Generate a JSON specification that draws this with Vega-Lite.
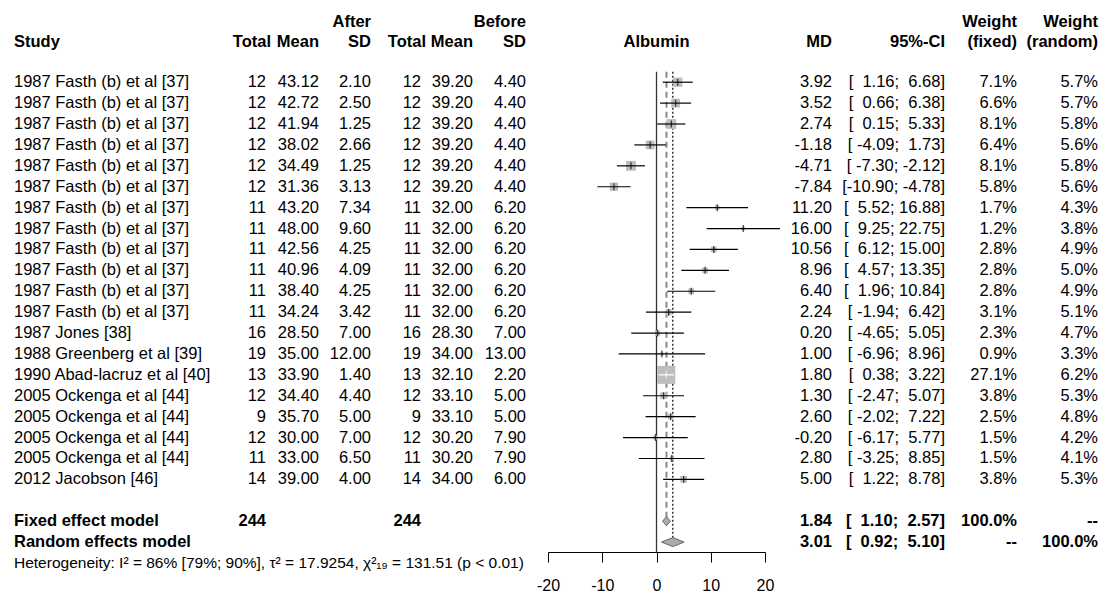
{
  "$schema": "https://vega.github.io/schema/vega-lite/v6.json",
  "padding": {"left": 14, "top": 0, "right": 3, "bottom": 0},
  "bounds": "flush",
  "spacing": 0,
  "config": {
    "locale": {"number": {"decimal": ".", "thousands": ",", "grouping": [3], "currency": ["$", ""], "minus": "-"}},
    "view": {"stroke": null},
    "font": "Liberation Sans",
    "text": {"font": "Liberation Sans", "fontSize": 16.5, "baseline": "middle", "color": "black"},
    "axis": {"labelFont": "Liberation Sans"}
  },
  "datasets": {
    "headers": [
      {"col": "study", "row": 1, "label": "Study"},
      {"col": "n_a", "row": 1, "label": "Total"},
      {"col": "mean_a", "row": 1, "label": "Mean"},
      {"col": "sd_a", "row": 0, "label": "After"},
      {"col": "sd_a", "row": 1, "label": "SD"},
      {"col": "n_b", "row": 1, "label": "Total"},
      {"col": "mean_b", "row": 1, "label": "Mean"},
      {"col": "sd_b", "row": 0, "label": "Before"},
      {"col": "sd_b", "row": 1, "label": "SD"},
      {"col": "forest", "row": 1, "label": "Albumin"},
      {"col": "md", "row": 1, "label": "MD"},
      {"col": "ci", "row": 1, "label": "95%-CI"},
      {"col": "wf", "row": 0, "label": "Weight"},
      {"col": "wf", "row": 1, "label": "(fixed)"},
      {"col": "wr", "row": 0, "label": "Weight"},
      {"col": "wr", "row": 1, "label": "(random)"}
    ],
    "refs": [
      {"ref": "null", "x": 0, "top": 2.5, "bottom": 25.48},
      {"ref": "fixed", "x": 1.84, "top": 2.5, "bottom": 24},
      {"ref": "random", "x": 3.01, "top": 2.5, "bottom": 25}
    ],
    "studies": [
      {"row": 3, "study": "1987 Fasth (b) et al [37]", "n_a": 12, "mean_a": 43.12, "sd_a": 2.10, "n_b": 12, "mean_b": 39.20, "sd_b": 4.40, "md": 3.92, "lower": 1.16, "upper": 6.68, "ci": "[\u00a0\u00a01.16;\u00a0\u00a06.68]", "w_fixed": 0.071, "w_random": 0.057},
      {"row": 4, "study": "1987 Fasth (b) et al [37]", "n_a": 12, "mean_a": 42.72, "sd_a": 2.50, "n_b": 12, "mean_b": 39.20, "sd_b": 4.40, "md": 3.52, "lower": 0.66, "upper": 6.38, "ci": "[\u00a0\u00a00.66;\u00a0\u00a06.38]", "w_fixed": 0.066, "w_random": 0.057},
      {"row": 5, "study": "1987 Fasth (b) et al [37]", "n_a": 12, "mean_a": 41.94, "sd_a": 1.25, "n_b": 12, "mean_b": 39.20, "sd_b": 4.40, "md": 2.74, "lower": 0.15, "upper": 5.33, "ci": "[\u00a0\u00a00.15;\u00a0\u00a05.33]", "w_fixed": 0.081, "w_random": 0.058},
      {"row": 6, "study": "1987 Fasth (b) et al [37]", "n_a": 12, "mean_a": 38.02, "sd_a": 2.66, "n_b": 12, "mean_b": 39.20, "sd_b": 4.40, "md": -1.18, "lower": -4.09, "upper": 1.73, "ci": "[\u00a0-4.09;\u00a0\u00a01.73]", "w_fixed": 0.064, "w_random": 0.056},
      {"row": 7, "study": "1987 Fasth (b) et al [37]", "n_a": 12, "mean_a": 34.49, "sd_a": 1.25, "n_b": 12, "mean_b": 39.20, "sd_b": 4.40, "md": -4.71, "lower": -7.30, "upper": -2.12, "ci": "[\u00a0-7.30;\u00a0-2.12]", "w_fixed": 0.081, "w_random": 0.058},
      {"row": 8, "study": "1987 Fasth (b) et al [37]", "n_a": 12, "mean_a": 31.36, "sd_a": 3.13, "n_b": 12, "mean_b": 39.20, "sd_b": 4.40, "md": -7.84, "lower": -10.90, "upper": -4.78, "ci": "[-10.90;\u00a0-4.78]", "w_fixed": 0.058, "w_random": 0.056},
      {"row": 9, "study": "1987 Fasth (b) et al [37]", "n_a": 11, "mean_a": 43.20, "sd_a": 7.34, "n_b": 11, "mean_b": 32.00, "sd_b": 6.20, "md": 11.20, "lower": 5.52, "upper": 16.88, "ci": "[\u00a0\u00a05.52;\u00a016.88]", "w_fixed": 0.017, "w_random": 0.043},
      {"row": 10, "study": "1987 Fasth (b) et al [37]", "n_a": 11, "mean_a": 48.00, "sd_a": 9.60, "n_b": 11, "mean_b": 32.00, "sd_b": 6.20, "md": 16.00, "lower": 9.25, "upper": 22.75, "ci": "[\u00a0\u00a09.25;\u00a022.75]", "w_fixed": 0.012, "w_random": 0.038},
      {"row": 11, "study": "1987 Fasth (b) et al [37]", "n_a": 11, "mean_a": 42.56, "sd_a": 4.25, "n_b": 11, "mean_b": 32.00, "sd_b": 6.20, "md": 10.56, "lower": 6.12, "upper": 15.00, "ci": "[\u00a0\u00a06.12;\u00a015.00]", "w_fixed": 0.028, "w_random": 0.049},
      {"row": 12, "study": "1987 Fasth (b) et al [37]", "n_a": 11, "mean_a": 40.96, "sd_a": 4.09, "n_b": 11, "mean_b": 32.00, "sd_b": 6.20, "md": 8.96, "lower": 4.57, "upper": 13.35, "ci": "[\u00a0\u00a04.57;\u00a013.35]", "w_fixed": 0.028, "w_random": 0.050},
      {"row": 13, "study": "1987 Fasth (b) et al [37]", "n_a": 11, "mean_a": 38.40, "sd_a": 4.25, "n_b": 11, "mean_b": 32.00, "sd_b": 6.20, "md": 6.40, "lower": 1.96, "upper": 10.84, "ci": "[\u00a0\u00a01.96;\u00a010.84]", "w_fixed": 0.028, "w_random": 0.049},
      {"row": 14, "study": "1987 Fasth (b) et al [37]", "n_a": 11, "mean_a": 34.24, "sd_a": 3.42, "n_b": 11, "mean_b": 32.00, "sd_b": 6.20, "md": 2.24, "lower": -1.94, "upper": 6.42, "ci": "[\u00a0-1.94;\u00a0\u00a06.42]", "w_fixed": 0.031, "w_random": 0.051},
      {"row": 15, "study": "1987 Jones [38]", "n_a": 16, "mean_a": 28.50, "sd_a": 7.00, "n_b": 16, "mean_b": 28.30, "sd_b": 7.00, "md": 0.20, "lower": -4.65, "upper": 5.05, "ci": "[\u00a0-4.65;\u00a0\u00a05.05]", "w_fixed": 0.023, "w_random": 0.047},
      {"row": 16, "study": "1988 Greenberg et al [39]", "n_a": 19, "mean_a": 35.00, "sd_a": 12.00, "n_b": 19, "mean_b": 34.00, "sd_b": 13.00, "md": 1.00, "lower": -6.96, "upper": 8.96, "ci": "[\u00a0-6.96;\u00a0\u00a08.96]", "w_fixed": 0.009, "w_random": 0.033},
      {"row": 17, "study": "1990 Abad-lacruz et al [40]", "n_a": 13, "mean_a": 33.90, "sd_a": 1.40, "n_b": 13, "mean_b": 32.10, "sd_b": 2.20, "md": 1.80, "lower": 0.38, "upper": 3.22, "ci": "[\u00a0\u00a00.38;\u00a0\u00a03.22]", "w_fixed": 0.271, "w_random": 0.062},
      {"row": 18, "study": "2005 Ockenga et al [44]", "n_a": 12, "mean_a": 34.40, "sd_a": 4.40, "n_b": 12, "mean_b": 33.10, "sd_b": 5.00, "md": 1.30, "lower": -2.47, "upper": 5.07, "ci": "[\u00a0-2.47;\u00a0\u00a05.07]", "w_fixed": 0.038, "w_random": 0.053},
      {"row": 19, "study": "2005 Ockenga et al [44]", "n_a": 9, "mean_a": 35.70, "sd_a": 5.00, "n_b": 9, "mean_b": 33.10, "sd_b": 5.00, "md": 2.60, "lower": -2.02, "upper": 7.22, "ci": "[\u00a0-2.02;\u00a0\u00a07.22]", "w_fixed": 0.025, "w_random": 0.048},
      {"row": 20, "study": "2005 Ockenga et al [44]", "n_a": 12, "mean_a": 30.00, "sd_a": 7.00, "n_b": 12, "mean_b": 30.20, "sd_b": 7.90, "md": -0.20, "lower": -6.17, "upper": 5.77, "ci": "[\u00a0-6.17;\u00a0\u00a05.77]", "w_fixed": 0.015, "w_random": 0.042},
      {"row": 21, "study": "2005 Ockenga et al [44]", "n_a": 11, "mean_a": 33.00, "sd_a": 6.50, "n_b": 11, "mean_b": 30.20, "sd_b": 7.90, "md": 2.80, "lower": -3.25, "upper": 8.85, "ci": "[\u00a0-3.25;\u00a0\u00a08.85]", "w_fixed": 0.015, "w_random": 0.041},
      {"row": 22, "study": "2012 Jacobson [46]", "n_a": 14, "mean_a": 39.00, "sd_a": 4.00, "n_b": 14, "mean_b": 34.00, "sd_b": 6.00, "md": 5.00, "lower": 1.22, "upper": 8.78, "ci": "[\u00a0\u00a01.22;\u00a0\u00a08.78]", "w_fixed": 0.038, "w_random": 0.053}
    ],
    "models": [
      {"row": 24, "label": "Fixed effect model", "n": 244, "md": 1.84, "lower": 1.10, "upper": 2.57, "ci": "[\u00a0\u00a01.10;\u00a0\u00a02.57]", "wf": "100.0%", "wr": "--"},
      {"row": 25, "label": "Random effects model", "n": null, "md": 3.01, "lower": 0.92, "upper": 5.10, "ci": "[\u00a0\u00a00.92;\u00a0\u00a05.10]", "wf": "--", "wr": "100.0%"}
    ],
    "notes": [
      {"row": 26, "label": "Heterogeneity: I\u00b2 = 86% [79%; 90%], \u03c4\u00b2 = 17.9254, \u03c7\u00b2\u2081\u2089 = 131.51 (p < 0.01)"}
    ]
  },
  "hconcat": [
    {
      "width": 216, "height": 552,
      "layer": [
        {"data": {"name": "headers"}, "transform": [{"filter": "datum.col == 'study'"}],
         "mark": {"type": "text", "align": "left", "fontWeight": "bold", "dy": 2},
         "encoding": {"x": {"datum": 0, "type": "quantitative", "scale": {"domain": [0, 1]}, "axis": null},
                      "y": {"field": "row", "type": "quantitative", "scale": {"domain": [0, 26], "range": [19.5, 563]}, "axis": null},
                      "text": {"field": "label", "type": "nominal"}}},
        {"data": {"name": "studies"},
         "mark": {"type": "text", "align": "left"},
         "encoding": {"x": {"datum": 0, "type": "quantitative", "scale": {"domain": [0, 1]}, "axis": null},
                      "y": {"field": "row", "type": "quantitative", "scale": {"domain": [0, 26], "range": [19.5, 563]}, "axis": null},
                      "text": {"field": "study", "type": "nominal"}}},
        {"data": {"name": "models"},
         "mark": {"type": "text", "align": "left", "fontWeight": "bold"},
         "encoding": {"x": {"datum": 0, "type": "quantitative", "scale": {"domain": [0, 1]}, "axis": null},
                      "y": {"field": "row", "type": "quantitative", "scale": {"domain": [0, 26], "range": [19.5, 563]}, "axis": null},
                      "text": {"field": "label", "type": "nominal"}}},
        {"data": {"name": "notes"},
         "mark": {"type": "text", "align": "left", "fontSize": 15.5},
         "encoding": {"x": {"datum": 0, "type": "quantitative", "scale": {"domain": [0, 1]}, "axis": null},
                      "y": {"field": "row", "type": "quantitative", "scale": {"domain": [0, 26], "range": [19.5, 563]}, "axis": null},
                      "text": {"field": "label", "type": "nominal"}}}
      ]
    },
    {
      "width": 36, "height": 552,
      "layer": [
        {"data": {"name": "headers"}, "transform": [{"filter": "datum.col == 'n_a'"}],
         "mark": {"type": "text", "align": "right", "fontWeight": "bold", "dy": 2, "dx": 5},
         "encoding": {"x": {"datum": 1, "type": "quantitative", "scale": {"domain": [0, 1]}, "axis": null},
                      "y": {"field": "row", "type": "quantitative", "scale": {"domain": [0, 26], "range": [19.5, 563]}, "axis": null},
                      "text": {"field": "label", "type": "nominal"}}},
        {"data": {"name": "studies"},
         "mark": {"type": "text", "align": "right"},
         "encoding": {"x": {"datum": 1, "type": "quantitative", "scale": {"domain": [0, 1]}, "axis": null},
                      "y": {"field": "row", "type": "quantitative", "scale": {"domain": [0, 26], "range": [19.5, 563]}, "axis": null},
                      "text": {"field": "n_a", "type": "quantitative", "format": "d"}}},
        {"data": {"name": "models"}, "transform": [{"filter": "isValid(datum.n)"}],
         "mark": {"type": "text", "align": "right", "fontWeight": "bold"},
         "encoding": {"x": {"datum": 1, "type": "quantitative", "scale": {"domain": [0, 1]}, "axis": null},
                      "y": {"field": "row", "type": "quantitative", "scale": {"domain": [0, 26], "range": [19.5, 563]}, "axis": null},
                      "text": {"field": "n", "type": "quantitative", "format": "d"}}}
      ]
    },
    {
      "width": 53, "height": 552,
      "layer": [
        {"data": {"name": "headers"}, "transform": [{"filter": "datum.col == 'mean_a'"}],
         "mark": {"type": "text", "align": "right", "fontWeight": "bold", "dy": 2},
         "encoding": {"x": {"datum": 1, "type": "quantitative", "scale": {"domain": [0, 1]}, "axis": null},
                      "y": {"field": "row", "type": "quantitative", "scale": {"domain": [0, 26], "range": [19.5, 563]}, "axis": null},
                      "text": {"field": "label", "type": "nominal"}}},
        {"data": {"name": "studies"},
         "mark": {"type": "text", "align": "right"},
         "encoding": {"x": {"datum": 1, "type": "quantitative", "scale": {"domain": [0, 1]}, "axis": null},
                      "y": {"field": "row", "type": "quantitative", "scale": {"domain": [0, 26], "range": [19.5, 563]}, "axis": null},
                      "text": {"field": "mean_a", "type": "quantitative", "format": ".2f"}}}
      ]
    },
    {
      "width": 52, "height": 552,
      "layer": [
        {"data": {"name": "headers"}, "transform": [{"filter": "datum.col == 'sd_a'"}],
         "mark": {"type": "text", "align": "right", "fontWeight": "bold", "dy": 2},
         "encoding": {"x": {"datum": 1, "type": "quantitative", "scale": {"domain": [0, 1]}, "axis": null},
                      "y": {"field": "row", "type": "quantitative", "scale": {"domain": [0, 26], "range": [19.5, 563]}, "axis": null},
                      "text": {"field": "label", "type": "nominal"}}},
        {"data": {"name": "studies"},
         "mark": {"type": "text", "align": "right"},
         "encoding": {"x": {"datum": 1, "type": "quantitative", "scale": {"domain": [0, 1]}, "axis": null},
                      "y": {"field": "row", "type": "quantitative", "scale": {"domain": [0, 26], "range": [19.5, 563]}, "axis": null},
                      "text": {"field": "sd_a", "type": "quantitative", "format": ".2f"}}}
      ]
    },
    {
      "width": 50, "height": 552,
      "layer": [
        {"data": {"name": "headers"}, "transform": [{"filter": "datum.col == 'n_b'"}],
         "mark": {"type": "text", "align": "right", "fontWeight": "bold", "dy": 2, "dx": 5},
         "encoding": {"x": {"datum": 1, "type": "quantitative", "scale": {"domain": [0, 1]}, "axis": null},
                      "y": {"field": "row", "type": "quantitative", "scale": {"domain": [0, 26], "range": [19.5, 563]}, "axis": null},
                      "text": {"field": "label", "type": "nominal"}}},
        {"data": {"name": "studies"},
         "mark": {"type": "text", "align": "right"},
         "encoding": {"x": {"datum": 1, "type": "quantitative", "scale": {"domain": [0, 1]}, "axis": null},
                      "y": {"field": "row", "type": "quantitative", "scale": {"domain": [0, 26], "range": [19.5, 563]}, "axis": null},
                      "text": {"field": "n_b", "type": "quantitative", "format": "d"}}},
        {"data": {"name": "models"}, "transform": [{"filter": "isValid(datum.n)"}],
         "mark": {"type": "text", "align": "right", "fontWeight": "bold"},
         "encoding": {"x": {"datum": 1, "type": "quantitative", "scale": {"domain": [0, 1]}, "axis": null},
                      "y": {"field": "row", "type": "quantitative", "scale": {"domain": [0, 26], "range": [19.5, 563]}, "axis": null},
                      "text": {"field": "n", "type": "quantitative", "format": "d"}}}
      ]
    },
    {
      "width": 52, "height": 552,
      "layer": [
        {"data": {"name": "headers"}, "transform": [{"filter": "datum.col == 'mean_b'"}],
         "mark": {"type": "text", "align": "right", "fontWeight": "bold", "dy": 2},
         "encoding": {"x": {"datum": 1, "type": "quantitative", "scale": {"domain": [0, 1]}, "axis": null},
                      "y": {"field": "row", "type": "quantitative", "scale": {"domain": [0, 26], "range": [19.5, 563]}, "axis": null},
                      "text": {"field": "label", "type": "nominal"}}},
        {"data": {"name": "studies"},
         "mark": {"type": "text", "align": "right"},
         "encoding": {"x": {"datum": 1, "type": "quantitative", "scale": {"domain": [0, 1]}, "axis": null},
                      "y": {"field": "row", "type": "quantitative", "scale": {"domain": [0, 26], "range": [19.5, 563]}, "axis": null},
                      "text": {"field": "mean_b", "type": "quantitative", "format": ".2f"}}}
      ]
    },
    {
      "width": 53, "height": 552,
      "layer": [
        {"data": {"name": "headers"}, "transform": [{"filter": "datum.col == 'sd_b'"}],
         "mark": {"type": "text", "align": "right", "fontWeight": "bold", "dy": 2},
         "encoding": {"x": {"datum": 1, "type": "quantitative", "scale": {"domain": [0, 1]}, "axis": null},
                      "y": {"field": "row", "type": "quantitative", "scale": {"domain": [0, 26], "range": [19.5, 563]}, "axis": null},
                      "text": {"field": "label", "type": "nominal"}}},
        {"data": {"name": "studies"},
         "mark": {"type": "text", "align": "right"},
         "encoding": {"x": {"datum": 1, "type": "quantitative", "scale": {"domain": [0, 1]}, "axis": null},
                      "y": {"field": "row", "type": "quantitative", "scale": {"domain": [0, 26], "range": [19.5, 563]}, "axis": null},
                      "text": {"field": "sd_b", "type": "quantitative", "format": ".2f"}}}
      ]
    },
    {
      "width": 261, "height": 552,
      "layer": [
        {"data": {"name": "refs"}, "transform": [{"filter": "datum.ref == 'null'"}],
         "mark": {"type": "rule", "color": "#333333", "strokeWidth": 1.3},
         "encoding": {"x": {"field": "x", "type": "quantitative", "scale": {"domain": [-20, 20], "range": [22, 239]},
                            "axis": {"values": [-20, -10, 0, 10, 20], "title": null, "grid": false, "domainColor": "black", "tickColor": "black", "domainWidth": 1, "tickWidth": 1, "tickSize": 10, "labelFontSize": 16, "labelColor": "black", "labelPadding": 15, "labelFont": "Liberation Sans", "labelFlush": false, "labelOverlap": false}},
                      "y": {"field": "top", "type": "quantitative", "scale": {"domain": [0, 26], "range": [19.5, 563]}, "axis": null},
                      "y2": {"field": "bottom"}}},
        {"data": {"name": "refs"}, "transform": [{"filter": "datum.ref == 'fixed'"}],
         "mark": {"type": "rule", "color": "#8a8a8a", "strokeWidth": 2, "strokeDash": [6, 4]},
         "encoding": {"x": {"field": "x", "type": "quantitative", "scale": {"domain": [-20, 20], "range": [22, 239]},
                            "axis": {"values": [-20, -10, 0, 10, 20], "title": null, "grid": false, "domainColor": "black", "tickColor": "black", "domainWidth": 1, "tickWidth": 1, "tickSize": 10, "labelFontSize": 16, "labelColor": "black", "labelPadding": 15, "labelFont": "Liberation Sans", "labelFlush": false, "labelOverlap": false}},
                      "y": {"field": "top", "type": "quantitative", "scale": {"domain": [0, 26], "range": [19.5, 563]}, "axis": null},
                      "y2": {"field": "bottom"}}},
        {"data": {"name": "refs"}, "transform": [{"filter": "datum.ref == 'random'"}],
         "mark": {"type": "rule", "color": "black", "strokeWidth": 1.2, "strokeDash": [2, 2]},
         "encoding": {"x": {"field": "x", "type": "quantitative", "scale": {"domain": [-20, 20], "range": [22, 239]},
                            "axis": {"values": [-20, -10, 0, 10, 20], "title": null, "grid": false, "domainColor": "black", "tickColor": "black", "domainWidth": 1, "tickWidth": 1, "tickSize": 10, "labelFontSize": 16, "labelColor": "black", "labelPadding": 15, "labelFont": "Liberation Sans", "labelFlush": false, "labelOverlap": false}},
                      "y": {"field": "top", "type": "quantitative", "scale": {"domain": [0, 26], "range": [19.5, 563]}, "axis": null},
                      "y2": {"field": "bottom"}}},
        {"data": {"name": "studies"},
         "mark": {"type": "point", "shape": "square", "filled": true, "color": "#BEBEBE", "opacity": 1, "strokeWidth": 0},
         "encoding": {"x": {"field": "md", "type": "quantitative", "scale": {"domain": [-20, 20], "range": [22, 239]},
                            "axis": {"values": [-20, -10, 0, 10, 20], "title": null, "grid": false, "domainColor": "black", "tickColor": "black", "domainWidth": 1, "tickWidth": 1, "tickSize": 10, "labelFontSize": 16, "labelColor": "black", "labelPadding": 15, "labelFont": "Liberation Sans", "labelFlush": false, "labelOverlap": false}},
                      "y": {"field": "row", "type": "quantitative", "scale": {"domain": [0, 26], "range": [19.5, 563]}, "axis": null},
                      "size": {"field": "w_fixed", "type": "quantitative", "scale": {"domain": [0, 0.271], "range": [0, 324]}, "legend": null}}},
        {"data": {"name": "studies"},
         "mark": {"type": "rule", "strokeWidth": 1.2},
         "encoding": {"x": {"field": "lower", "type": "quantitative", "scale": {"domain": [-20, 20], "range": [22, 239]},
                            "axis": {"values": [-20, -10, 0, 10, 20], "title": null, "grid": false, "domainColor": "black", "tickColor": "black", "domainWidth": 1, "tickWidth": 1, "tickSize": 10, "labelFontSize": 16, "labelColor": "black", "labelPadding": 15, "labelFont": "Liberation Sans", "labelFlush": false, "labelOverlap": false}},
                      "x2": {"field": "upper"},
                      "y": {"field": "row", "type": "quantitative", "scale": {"domain": [0, 26], "range": [19.5, 563]}, "axis": null},
                      "color": {"condition": {"test": "datum.upper - datum.lower < 3", "value": "white"}, "value": "black"}}},
        {"data": {"name": "studies"},
         "mark": {"type": "tick", "orient": "vertical", "size": 7, "thickness": 1.3},
         "encoding": {"x": {"field": "md", "type": "quantitative", "scale": {"domain": [-20, 20], "range": [22, 239]},
                            "axis": {"values": [-20, -10, 0, 10, 20], "title": null, "grid": false, "domainColor": "black", "tickColor": "black", "domainWidth": 1, "tickWidth": 1, "tickSize": 10, "labelFontSize": 16, "labelColor": "black", "labelPadding": 15, "labelFont": "Liberation Sans", "labelFlush": false, "labelOverlap": false}},
                      "y": {"field": "row", "type": "quantitative", "scale": {"domain": [0, 26], "range": [19.5, 563]}, "axis": null},
                      "color": {"condition": {"test": "datum.upper - datum.lower < 3", "value": "white"}, "value": "black"}}},
        {"data": {"name": "models"},
         "mark": {"type": "point", "filled": true, "fill": "#ABABAB", "stroke": "#666666", "strokeWidth": 1, "opacity": 1, "size": 81},
         "encoding": {"x": {"field": "md", "type": "quantitative", "scale": {"domain": [-20, 20], "range": [22, 239]},
                            "axis": {"values": [-20, -10, 0, 10, 20], "title": null, "grid": false, "domainColor": "black", "tickColor": "black", "domainWidth": 1, "tickWidth": 1, "tickSize": 10, "labelFontSize": 16, "labelColor": "black", "labelPadding": 15, "labelFont": "Liberation Sans", "labelFlush": false, "labelOverlap": false}},
                      "y": {"field": "row", "type": "quantitative", "scale": {"domain": [0, 26], "range": [19.5, 563]}, "axis": null},
                      "shape": {"field": "label", "type": "nominal", "legend": null,
                                "scale": {"domain": ["Fixed effect model", "Random effects model"], "range": ["M-0.887,0L0,-1L0.887,0L0,1Z", "M-2.52,0L0,-1L2.52,0L0,1Z"]}}}},
        {"data": {"name": "headers"}, "transform": [{"filter": "datum.col == 'forest'"}],
         "mark": {"type": "text", "align": "center", "fontWeight": "bold", "dy": 2},
         "encoding": {"x": {"datum": 0, "type": "quantitative", "scale": {"domain": [-20, 20], "range": [22, 239]},
                            "axis": {"values": [-20, -10, 0, 10, 20], "title": null, "grid": false, "domainColor": "black", "tickColor": "black", "domainWidth": 1, "tickWidth": 1, "tickSize": 10, "labelFontSize": 16, "labelColor": "black", "labelPadding": 15, "labelFont": "Liberation Sans", "labelFlush": false, "labelOverlap": false}},
                      "y": {"field": "row", "type": "quantitative", "scale": {"domain": [0, 26], "range": [19.5, 563]}, "axis": null},
                      "text": {"field": "label", "type": "nominal"}}}
      ]
    },
    {
      "width": 45, "height": 552,
      "layer": [
        {"data": {"name": "headers"}, "transform": [{"filter": "datum.col == 'md'"}],
         "mark": {"type": "text", "align": "right", "fontWeight": "bold", "dy": 2},
         "encoding": {"x": {"datum": 1, "type": "quantitative", "scale": {"domain": [0, 1]}, "axis": null},
                      "y": {"field": "row", "type": "quantitative", "scale": {"domain": [0, 26], "range": [19.5, 563]}, "axis": null},
                      "text": {"field": "label", "type": "nominal"}}},
        {"data": {"name": "studies"},
         "mark": {"type": "text", "align": "right"},
         "encoding": {"x": {"datum": 1, "type": "quantitative", "scale": {"domain": [0, 1]}, "axis": null},
                      "y": {"field": "row", "type": "quantitative", "scale": {"domain": [0, 26], "range": [19.5, 563]}, "axis": null},
                      "text": {"field": "md", "type": "quantitative", "format": ".2f"}}},
        {"data": {"name": "models"},
         "mark": {"type": "text", "align": "right", "fontWeight": "bold"},
         "encoding": {"x": {"datum": 1, "type": "quantitative", "scale": {"domain": [0, 1]}, "axis": null},
                      "y": {"field": "row", "type": "quantitative", "scale": {"domain": [0, 26], "range": [19.5, 563]}, "axis": null},
                      "text": {"field": "md", "type": "quantitative", "format": ".2f"}}}
      ]
    },
    {
      "width": 113, "height": 552,
      "layer": [
        {"data": {"name": "headers"}, "transform": [{"filter": "datum.col == 'ci'"}],
         "mark": {"type": "text", "align": "right", "fontWeight": "bold", "dy": 2},
         "encoding": {"x": {"datum": 1, "type": "quantitative", "scale": {"domain": [0, 1]}, "axis": null},
                      "y": {"field": "row", "type": "quantitative", "scale": {"domain": [0, 26], "range": [19.5, 563]}, "axis": null},
                      "text": {"field": "label", "type": "nominal"}}},
        {"data": {"name": "studies"},
         "mark": {"type": "text", "align": "right"},
         "encoding": {"x": {"datum": 1, "type": "quantitative", "scale": {"domain": [0, 1]}, "axis": null},
                      "y": {"field": "row", "type": "quantitative", "scale": {"domain": [0, 26], "range": [19.5, 563]}, "axis": null},
                      "text": {"field": "ci", "type": "nominal"}}},
        {"data": {"name": "models"},
         "mark": {"type": "text", "align": "right", "fontWeight": "bold"},
         "encoding": {"x": {"datum": 1, "type": "quantitative", "scale": {"domain": [0, 1]}, "axis": null},
                      "y": {"field": "row", "type": "quantitative", "scale": {"domain": [0, 26], "range": [19.5, 563]}, "axis": null},
                      "text": {"field": "ci", "type": "nominal"}}}
      ]
    },
    {
      "width": 72, "height": 552,
      "layer": [
        {"data": {"name": "headers"}, "transform": [{"filter": "datum.col == 'wf'"}],
         "mark": {"type": "text", "align": "right", "fontWeight": "bold", "dy": 2},
         "encoding": {"x": {"datum": 1, "type": "quantitative", "scale": {"domain": [0, 1]}, "axis": null},
                      "y": {"field": "row", "type": "quantitative", "scale": {"domain": [0, 26], "range": [19.5, 563]}, "axis": null},
                      "text": {"field": "label", "type": "nominal"}}},
        {"data": {"name": "studies"},
         "mark": {"type": "text", "align": "right"},
         "encoding": {"x": {"datum": 1, "type": "quantitative", "scale": {"domain": [0, 1]}, "axis": null},
                      "y": {"field": "row", "type": "quantitative", "scale": {"domain": [0, 26], "range": [19.5, 563]}, "axis": null},
                      "text": {"field": "w_fixed", "type": "quantitative", "format": ".1%"}}},
        {"data": {"name": "models"},
         "mark": {"type": "text", "align": "right", "fontWeight": "bold"},
         "encoding": {"x": {"datum": 1, "type": "quantitative", "scale": {"domain": [0, 1]}, "axis": null},
                      "y": {"field": "row", "type": "quantitative", "scale": {"domain": [0, 26], "range": [19.5, 563]}, "axis": null},
                      "text": {"field": "wf", "type": "nominal"}}}
      ]
    },
    {
      "width": 81, "height": 552,
      "layer": [
        {"data": {"name": "headers"}, "transform": [{"filter": "datum.col == 'wr'"}],
         "mark": {"type": "text", "align": "right", "fontWeight": "bold", "dy": 2},
         "encoding": {"x": {"datum": 1, "type": "quantitative", "scale": {"domain": [0, 1]}, "axis": null},
                      "y": {"field": "row", "type": "quantitative", "scale": {"domain": [0, 26], "range": [19.5, 563]}, "axis": null},
                      "text": {"field": "label", "type": "nominal"}}},
        {"data": {"name": "studies"},
         "mark": {"type": "text", "align": "right"},
         "encoding": {"x": {"datum": 1, "type": "quantitative", "scale": {"domain": [0, 1]}, "axis": null},
                      "y": {"field": "row", "type": "quantitative", "scale": {"domain": [0, 26], "range": [19.5, 563]}, "axis": null},
                      "text": {"field": "w_random", "type": "quantitative", "format": ".1%"}}},
        {"data": {"name": "models"},
         "mark": {"type": "text", "align": "right", "fontWeight": "bold"},
         "encoding": {"x": {"datum": 1, "type": "quantitative", "scale": {"domain": [0, 1]}, "axis": null},
                      "y": {"field": "row", "type": "quantitative", "scale": {"domain": [0, 26], "range": [19.5, 563]}, "axis": null},
                      "text": {"field": "wr", "type": "nominal"}}}
      ]
    }
  ]
}
